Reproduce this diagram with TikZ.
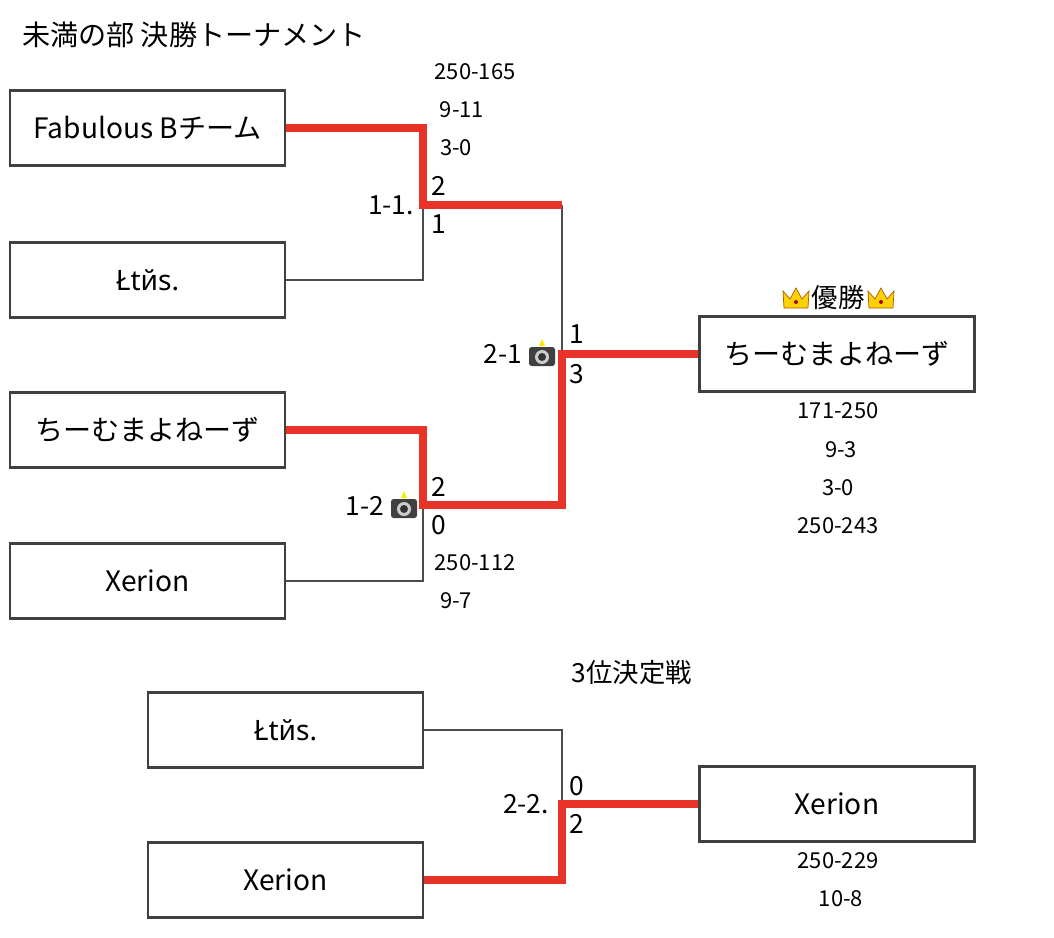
\documentclass[tikz,border=0pt]{standalone}
\usepackage{fontspec}
\setmainfont{Noto Sans CJK JP}
\newfontfamily\latf{Noto Sans}
\begin{document}
\begin{tikzpicture}[x=0.02cm,y=-0.02cm,
  box/.style={draw=black!75,line width=1.6pt,minimum width=5.5cm,minimum height=1.5cm,inner sep=0pt,font=\fontsize{16}{18}\selectfont},
  los/.style={draw=black!70,line width=1.3pt},
  sc/.style={font=\fontsize{12.5}{14}\selectfont},
  num/.style={font=\fontsize{15}{17}\selectfont}]
\useasboundingbox (0,0) rectangle (1054,937);
\definecolor{wr}{RGB}{232,52,40}
\tikzset{win/.style={draw=wr,line width=4.5pt}}
\node[anchor=west,font=\fontsize{16}{18}\selectfont] (title) at (16,35) {未満の部 決勝トーナメント};
\node[box] (b1) at (147.5,128) {Fabulous Bチーム};
\node[box] (b2) at (147.5,280) {\latf Łtйs.};
\node[box] (b3) at (147.5,430) {ちーむまよねーず};
\node[box] (b4) at (147.5,581) {Xerion};
\node[box] (w) at (837,354) {ちーむまよねーず};
\node[box] (l1) at (285.5,730) {\latf Łtйs.};
\node[box] (l2) at (285.5,880) {Xerion};
\node[box] (w3) at (837,804) {Xerion};
\coordinate (j1) at (423,205); \coordinate (j2) at (423,505);
\coordinate (j3) at (562,354); \coordinate (j4) at (562,804);
\coordinate (k1) at (562,205);
% losers
\draw[los] (b2.east) -| (j1);
\draw[los] (b4.east) -| (j2);
\draw[los] (k1) -- (j3);
\draw[los] (l1.east) -| (j4);
% winners
\draw[win] (b1.east) -| (j1) -- (k1);
\draw[win] (b3.east) -| (j2) -| (j3) -- (w.west);
\draw[win] (l2.east) -| (j4) -- (w3.west);
% labels
\node[sc] (s1) at (475,72) {250-165};
\node[sc] (s2) at (462,110) {9-11};
\node[sc] (s3) at (456,148) {3-0};
\node[num,anchor=east] (m11) at (420,205) {1-1.};
\node[num] (a1) at (439,186) {2}; \node[num] (a2) at (439,224) {1};
\node[num,anchor=east] (m21) at (528,354) {2-1};
\node[num] (a3) at (577,334) {1}; \node[num] (a4) at (577,374) {3};
\node[num,anchor=east] (m12) at (390,506) {1-2};
\node[num] (a5) at (439,487) {2}; \node[num] (a6) at (439,525) {0};
\node[sc] (s4) at (475,563) {250-112};
\node[sc] (s5) at (456,601) {9-7};
\node[num] (yu) at (838,298) {優勝};
\node[sc] (s6) at (838,411) {171-250};
\node[sc] (s7) at (841,450) {9-3};
\node[sc] (s8) at (838,488) {3-0};
\node[sc] (s9) at (838,526) {250-243};
\node[num] (t3) at (632,673) {3位決定戦};
\node[num,anchor=east] (m22) at (555,804) {2-2.};
\node[num] (a7) at (577,786) {0}; \node[num] (a8) at (577,824) {2};
\node[sc] (s10) at (838,861) {250-229};
\node[sc] (s11) at (841,899) {10-8};
% emoji-like icons
\foreach \cx in {796,881}{
  \fill[yellow!70!orange,draw=orange!70!black,line width=0.4pt] (\cx-12,308) -- (\cx-13,291) -- (\cx-6,299) -- (\cx,288) -- (\cx+6,299) -- (\cx+13,291) -- (\cx+12,308) -- cycle;
  \fill[red!70!black] (\cx,302) circle (2);}
\foreach \cx/\cy in {542/356,404/508}{
  \fill[black!75,rounded corners=1.5] (\cx-13,\cy-9) rectangle (\cx+13,\cy+10);
  \fill[gray!40] (\cx,\cy+1) circle (7);
  \fill[black!80] (\cx,\cy+1) circle (4);
  \fill[yellow!90!orange] (\cx,\cy-17) -- (\cx+3,\cy-10) -- (\cx-3,\cy-10) -- cycle;}
\end{tikzpicture}
\end{document}
